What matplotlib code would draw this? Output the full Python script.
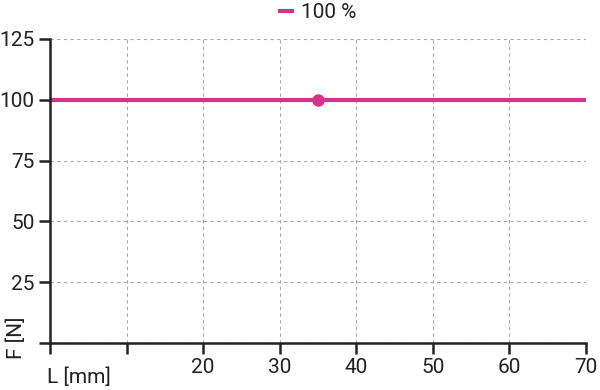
import matplotlib
matplotlib.use("Agg")
import matplotlib.pyplot as plt

plt.rcParams['font.family'] = ['Roboto', 'DejaVu Sans']

x_vals = [0, 70]
y_vals = [100, 100]
marker_x = [35]
marker_y = [100]
series_label = "100 %"
x_ticks = [0, 10, 20, 30, 40, 50, 60, 70]
x_ticklabels = ["", "", "20", "30", "40", "50", "60", "70"]
y_ticks = [0, 25, 50, 75, 100, 125]
y_ticklabels = ["", "25", "50", "75", "100", "125"]

color = "#d6338a"
fs = 15
fig = plt.figure(figsize=(6, 3.9), dpi=100)
ax = fig.add_axes([50/600, 1-343/390, 536/600, (343-39)/390])
ax.plot(x_vals, y_vals, color=color, lw=3, label=series_label, solid_capstyle='butt')
ax.plot(marker_x, marker_y, 'o', color=color, ms=8)
ax.set_xlim(0, 70)
ax.set_ylim(0, 125)
ax.set_xticks(x_ticks)
ax.set_xticklabels(x_ticklabels)
ax.set_yticks(y_ticks)
ax.set_yticklabels(y_ticklabels)
ax.grid(True, color='#aaaaaa', ls=(0, (3, 3)), lw=0.8)
ax.set_axisbelow(True)
for s in ['top', 'right']:
    ax.spines[s].set_visible(False)
for s in ['left', 'bottom']:
    ax.spines[s].set_linewidth(1.8)
    ax.spines[s].set_color('#222222')
ax.tick_params(axis='both', length=8, width=1.8, color='#222222', labelsize=fs, labelcolor='#222222', pad=3)
fig.text(79/600, 1-377/390, "L [mm]", fontsize=fs, color='#222222', ha='center', va='center')
fig.text(16/600, 1-338/390, "F [N]", fontsize=fs, color='#222222', ha='center', va='center', rotation=90)
leg = fig.legend(loc='upper center', bbox_to_anchor=(0.528, 1.04), frameon=False, fontsize=fs,
                 handlelength=0.8, handletextpad=0.3)
for t in leg.get_texts():
    t.set_color('#222222')
fig.savefig("out.png", dpi=100)
